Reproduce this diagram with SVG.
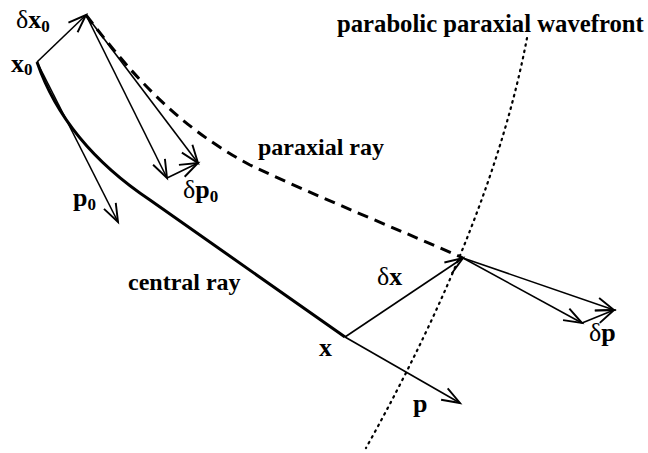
<svg xmlns="http://www.w3.org/2000/svg" width="648" height="453" viewBox="0 0 648 453">
<style>
text{font-family:"Liberation Serif","Times New Roman",serif;font-weight:bold;font-size:24px;fill:#000}
.m{font-size:26px}
.d{font-weight:normal}
.s{font-size:17px}
.arr{stroke:#000;stroke-width:1.6;fill:none;marker-end:url(#ah)}
.ray{stroke:#000;stroke-width:3;fill:none}
.dash{stroke:#000;stroke-width:3;fill:none;stroke-dasharray:11 7}
.dot{stroke:#000;stroke-width:2.2;fill:none;stroke-dasharray:1.5 5;stroke-linecap:round}
</style>
<defs>
<marker id="ah" markerUnits="userSpaceOnUse" markerWidth="30" markerHeight="30" viewBox="-20 -10 25 20" refX="0" refY="0" orient="auto">
<path d="M-15,-5.5 L0,0 L-15,5.5" stroke="#000" stroke-width="1.6" fill="none"/>
</marker>
</defs>
<rect width="648" height="453" fill="#fff"/>
<g id="connectors">
<path class="ray" d="M37,62 C55,114 90,160 150,200 L345,337"/>
<path class="dash" d="M86,15 C130,72 175,125 250,165 C320,198 400,230 463,258"/>
<path class="dot" d="M527,38 Q492,222 366,448"/>
<line class="arr" x1="37" y1="62" x2="86" y2="15"/>
<line class="arr" x1="86" y1="15" x2="167" y2="178"/>
<line class="arr" x1="86" y1="15" x2="198" y2="163"/>
<line class="arr" x1="167" y1="178" x2="198" y2="163"/>
<line class="arr" x1="37" y1="62" x2="118" y2="222"/>
<line class="arr" x1="345" y1="337" x2="463" y2="258"/>
<line class="arr" x1="345" y1="337" x2="460" y2="403"/>
<line class="arr" x1="463" y1="258" x2="582" y2="323"/>
<line class="arr" x1="463" y1="258" x2="614" y2="310"/>
<line class="arr" x1="582" y1="323" x2="614" y2="310"/>
</g>
<g id="label-dx0"><text class="m" x="16" y="28"><tspan class="d">δ</tspan>x<tspan class="s" dy="4">0</tspan></text></g>
<g id="label-x0"><text class="m" x="11" y="72">x<tspan class="s" dy="3">0</tspan></text></g>
<g id="label-p0"><text class="m" x="73" y="206">p<tspan class="s" dy="4">0</tspan></text></g>
<g id="label-dp0"><text class="m" x="183" y="198"><tspan class="d">δ</tspan>p<tspan class="s" dy="4">0</tspan></text></g>
<g id="label-paraxial"><text x="258" y="155">paraxial ray</text></g>
<g id="label-central"><text x="128" y="290">central ray</text></g>
<g id="label-dx"><text class="m" x="377" y="285"><tspan class="d">δ</tspan>x</text></g>
<g id="label-x"><text class="m" x="319" y="356">x</text></g>
<g id="label-p"><text class="m" x="413" y="412">p</text></g>
<g id="label-dp"><text class="m" x="589" y="341"><tspan class="d">δ</tspan>p</text></g>
<g id="label-wavefront"><text x="337" y="32" style="font-size:24.7px">parabolic paraxial wavefront</text></g>
</svg>
